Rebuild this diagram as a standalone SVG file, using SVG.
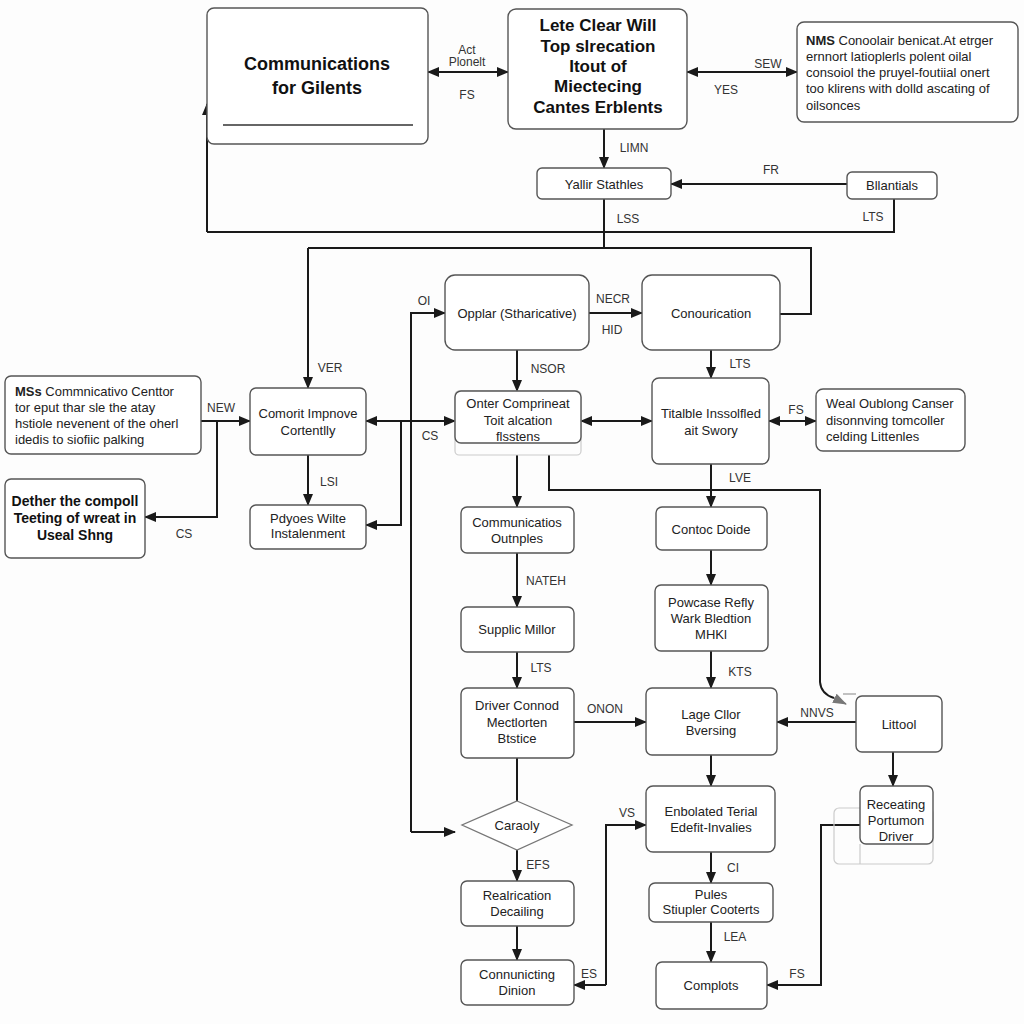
<svg xmlns="http://www.w3.org/2000/svg" width="1024" height="1024" viewBox="0 0 1024 1024">
<defs>
<marker id="ah" markerWidth="12" markerHeight="10" refX="11" refY="5" orient="auto-start-reverse" markerUnits="userSpaceOnUse">
<path d="M0,0 L12,5 L0,10 Z" fill="#1a1a1a"/>
</marker>
<marker id="ahg" markerWidth="14" markerHeight="10" refX="13" refY="5" orient="auto" markerUnits="userSpaceOnUse">
<path d="M0,0 L14,5 L0,10 Z" fill="#777"/>
</marker>
<style>
.box{fill:#fff;stroke:#555;stroke-width:1.4}
.ghost{fill:none;stroke:#ccc;stroke-width:1.2}
.t{font-family:"Liberation Sans",Arial,sans-serif;font-size:13px;fill:#222;text-anchor:middle}
.tl{font-family:"Liberation Sans",Arial,sans-serif;font-size:13px;fill:#222}
.tb{font-family:"Liberation Sans",Arial,sans-serif;font-weight:bold;fill:#111;text-anchor:middle}
.lb{font-family:"Liberation Sans",Arial,sans-serif;font-size:12px;fill:#333;text-anchor:middle}
.c{fill:none;stroke:#1a1a1a;stroke-width:2}
.a{marker-end:url(#ah)}
.aa{marker-start:url(#ah);marker-end:url(#ah)}
</style>
</defs>
<rect width="1024" height="1024" fill="#fdfdfd"/>

<g id="connectors">
<path class="c aa" d="M428,72 H508"/>
<path class="c aa" d="M687,72 H797"/>
<path class="c a" d="M604,129 V168"/>
<path class="c a" d="M847,184 H671"/>
<path class="c" d="M894,199 V232 H207"/>
<path class="c a" d="M207,232 V104"/>
<path class="c" d="M604,199 V248"/>
<path class="c a" d="M308,248 V388"/>
<path class="c" d="M308,248 H811 V314 H780"/>
<path class="c a" d="M201,421 H250"/>
<path class="c a" d="M217,421 V517 H145"/>
<path class="c a" d="M308,455 V505"/>
<path class="c aa" d="M366,421 H455"/>
<path class="c a" d="M401,421 V525 H366"/>
<path class="c a" d="M411,832 V313 H445"/>
<path class="c a" d="M411,832 H455"/>
<path class="c a" d="M589,313 H642"/>
<path class="c a" d="M517,350 V391"/>
<path class="c a" d="M711,350 V378"/>
<path class="c aa" d="M581,421 H652"/>
<path class="c aa" d="M769,421 H816"/>
<path class="c a" d="M517,455 V507"/>
<path class="c" d="M549,455 V490 H820 V682 Q821,694 834,698"/>
<path d="M834,698 L846,704" fill="none" stroke="#777" stroke-width="1.5" marker-end="url(#ahg)"/>
<path d="M843,694 H856" fill="none" stroke="#999" stroke-width="1.2"/>
<path class="c a" d="M711,464 V507"/>
<path class="c a" d="M517,553 V607"/>
<path class="c a" d="M711,550 V585"/>
<path class="c a" d="M517,652 V688"/>
<path class="c a" d="M711,651 V688"/>
<path class="c a" d="M574,722 H646"/>
<path class="c a" d="M856,722 H777"/>
<path class="c" d="M517,758 V801"/>
<path class="c a" d="M711,755 V786"/>
<path class="c a" d="M517,850 V881"/>
<path class="c a" d="M517,926 V960"/>
<path class="c a" d="M606,985 H574"/>
<path class="c a" d="M606,985 V825 H646"/>
<path class="c a" d="M711,852 V883"/>
<path class="c a" d="M711,922 V962"/>
<path class="c a" d="M893,752 V786"/>
<path class="c a" d="M860,825 H821 V985 H767"/>

<text class="lb" x="467" y="54">Act</text>
<text class="lb" x="467" y="66">Plonelt</text>
<text class="lb" x="467" y="99">FS</text>
<text class="lb" x="768" y="68">SEW</text>
<text class="lb" x="726" y="94">YES</text>
<text class="lb" x="634" y="152">LIMN</text>
<text class="lb" x="771" y="174">FR</text>
<text class="lb" x="628" y="223">LSS</text>
<text class="lb" x="873" y="221">LTS</text>
<text class="lb" x="330" y="372">VER</text>
<text class="lb" x="221" y="412">NEW</text>
<text class="lb" x="184" y="538">CS</text>
<text class="lb" x="430" y="440">CS</text>
<text class="lb" x="424" y="305">OI</text>
<text class="lb" x="329" y="486">LSI</text>
<text class="lb" x="613" y="303">NECR</text>
<text class="lb" x="612" y="334">HID</text>
<text class="lb" x="548" y="373">NSOR</text>
<text class="lb" x="740" y="368">LTS</text>
<text class="lb" x="796" y="414">FS</text>
<text class="lb" x="740" y="482">LVE</text>
<text class="lb" x="546" y="585">NATEH</text>
<text class="lb" x="541" y="672">LTS</text>
<text class="lb" x="740" y="676">KTS</text>
<text class="lb" x="605" y="713">ONON</text>
<text class="lb" x="817" y="717">NNVS</text>
<text class="lb" x="538" y="869">EFS</text>
<text class="lb" x="627" y="817">VS</text>
<text class="lb" x="589" y="978">ES</text>
<text class="lb" x="733" y="872">CI</text>
<text class="lb" x="735" y="941">LEA</text>
<text class="lb" x="797" y="978">FS</text>
</g>

<g id="n-communications">
<rect class="box" x="207" y="8" width="221" height="136" rx="7"/>
<text class="tb" x="317" y="70" font-size="18">Communications</text>
<text class="tb" x="317" y="94" font-size="18">for Gilents</text>
<line x1="223" y1="125" x2="413" y2="125" stroke="#333" stroke-width="1.5"/>
</g>
<g id="n-lete">
<rect class="box" x="508" y="9" width="179" height="120" rx="8"/>
<text class="tb" x="598" y="31" font-size="17">Lete Clear Will</text>
<text class="tb" x="598" y="52" font-size="17">Top slrecation</text>
<text class="tb" x="598" y="72" font-size="17">Itout of</text>
<text class="tb" x="598" y="92" font-size="17">Miectecing</text>
<text class="tb" x="598" y="113" font-size="17">Cantes Erblents</text>
</g>
<g id="n-nms">
<rect class="box" x="797" y="22" width="221" height="100" rx="7"/>
<text class="tl" x="806" y="45"><tspan font-weight="bold">NMS</tspan> Conoolair benicat.At etrger</text>
<text class="tl" x="806" y="61">ernnort latioplerls polent oilal</text>
<text class="tl" x="806" y="77">consoiol the pruyel-foutiial onert</text>
<text class="tl" x="806" y="93">too klirens with dolld ascating of</text>
<text class="tl" x="806" y="110">oilsonces</text>
</g>
<g id="n-yallir">
<rect class="box" x="537" y="168" width="134" height="31" rx="5"/>
<text class="t" x="604" y="189">Yallir Stathles</text>
</g>
<g id="n-bllantials">
<rect class="box" x="847" y="172" width="90" height="27" rx="5"/>
<text class="t" x="892" y="190">Bllantials</text>
</g>
<g id="n-mss">
<rect class="box" x="5" y="376" width="196" height="78" rx="6"/>
<text class="tl" x="15" y="396"><tspan font-weight="bold">MSs</tspan> Commnicativo Centtor</text>
<text class="tl" x="15" y="412">tor eput thar sle the atay</text>
<text class="tl" x="15" y="428">hstiole nevenent of the oherl</text>
<text class="tl" x="15" y="444">idedis to siofiic palking</text>
</g>
<g id="n-dether">
<rect class="box" x="5" y="479" width="140" height="79" rx="6"/>
<text class="tb" x="75" y="506" font-size="14">Dether the compoll</text>
<text class="tb" x="75" y="523" font-size="14">Teeting of wreat in</text>
<text class="tb" x="75" y="540" font-size="14">Useal Shng</text>
</g>
<g id="n-comorit">
<rect class="box" x="250" y="388" width="116" height="67" rx="6"/>
<text class="t" x="308" y="418">Comorit Impnove</text>
<text class="t" x="308" y="435">Cortentlly</text>
</g>
<g id="n-pdyoes">
<rect class="box" x="250" y="505" width="116" height="44" rx="6"/>
<text class="t" x="308" y="523">Pdyoes Wilte</text>
<text class="t" x="308" y="538">Instalenment</text>
</g>
<g id="n-opplar">
<rect class="box" x="445" y="275" width="144" height="75" rx="10"/>
<text class="t" x="517" y="318">Opplar (Stharicative)</text>
</g>
<g id="n-conourication">
<rect class="box" x="642" y="275" width="138" height="75" rx="10"/>
<text class="t" x="711" y="318">Conourication</text>
</g>
<g id="n-onter">
<rect class="ghost" x="455" y="391" width="126" height="64" rx="4"/>
<rect class="box" x="455" y="391" width="126" height="52" rx="6"/>
<text class="t" x="518" y="408">Onter Comprineat</text>
<text class="t" x="518" y="425">Toit alcation</text>
<text class="t" x="518" y="441" font-size="12">flsstens</text>
</g>
<g id="n-titalble">
<rect class="box" x="652" y="378" width="117" height="86" rx="7"/>
<text class="t" x="711" y="418">Titalble Inssolfled</text>
<text class="t" x="711" y="435">ait Swory</text>
</g>
<g id="n-weal">
<rect class="box" x="816" y="389" width="149" height="62" rx="7"/>
<text class="tl" x="826" y="408">Weal Oublong Canser</text>
<text class="tl" x="826" y="425">disonnving tomcoller</text>
<text class="tl" x="826" y="441">celding Littenles</text>
</g>
<g id="n-communicatios">
<rect class="box" x="461" y="507" width="113" height="46" rx="6"/>
<text class="t" x="517" y="527">Communicatios</text>
<text class="t" x="517" y="543">Outnples</text>
</g>
<g id="n-contoc">
<rect class="box" x="656" y="507" width="111" height="43" rx="6"/>
<text class="t" x="711" y="534">Contoc Doide</text>
</g>
<g id="n-powcase">
<rect class="box" x="655" y="585" width="113" height="66" rx="6"/>
<text class="t" x="711" y="607">Powcase Refly</text>
<text class="t" x="711" y="623">Wark Bledtion</text>
<text class="t" x="711" y="639">MHKl</text>
</g>
<g id="n-supplic">
<rect class="box" x="461" y="607" width="113" height="45" rx="6"/>
<text class="t" x="517" y="634">Supplic Millor</text>
</g>
<g id="n-driver">
<rect class="box" x="461" y="688" width="113" height="70" rx="6"/>
<text class="t" x="517" y="710">Driver Connod</text>
<text class="t" x="517" y="727">Mectlorten</text>
<text class="t" x="517" y="743">Btstice</text>
</g>
<g id="n-lage">
<rect class="box" x="646" y="688" width="131" height="67" rx="6"/>
<text class="t" x="711" y="719">Lage Cllor</text>
<text class="t" x="711" y="735">Bversing</text>
</g>
<g id="n-littool">
<rect class="box" x="856" y="696" width="86" height="56" rx="6"/>
<text class="t" x="899" y="729">Littool</text>
</g>
<g id="n-caraoly">
<polygon points="517,801 572,825 517,850 462,825" fill="#fff" stroke="#777" stroke-width="1.3"/>
<text class="t" x="517" y="830">Caraoly</text>
</g>
<g id="n-receating">
<rect class="ghost" x="834" y="808" width="99" height="56" rx="5"/>
<line x1="860" y1="844" x2="860" y2="864" stroke="#ccc" stroke-width="1.2"/>
<rect class="box" x="860" y="786" width="73" height="58" rx="6"/>
<text class="t" x="896" y="809">Receating</text>
<text class="t" x="896" y="825">Portumon</text>
<text class="t" x="896" y="841">Driver</text>
</g>
<g id="n-enbolated">
<rect class="box" x="646" y="786" width="129" height="66" rx="7"/>
<text class="t" x="711" y="816">Enbolated Terial</text>
<text class="t" x="711" y="832">Edefit-Invalies</text>
</g>
<g id="n-realrication">
<rect class="box" x="461" y="881" width="113" height="45" rx="6"/>
<text class="t" x="517" y="900">Realrication</text>
<text class="t" x="517" y="916">Decailing</text>
</g>
<g id="n-pules">
<rect class="box" x="649" y="883" width="124" height="39" rx="6"/>
<text class="t" x="711" y="899">Pules</text>
<text class="t" x="711" y="914">Stiupler Cooterts</text>
</g>
<g id="n-connunicting">
<rect class="box" x="461" y="960" width="113" height="45" rx="6"/>
<text class="t" x="517" y="979">Connunicting</text>
<text class="t" x="517" y="995">Dinion</text>
</g>
<g id="n-complots">
<rect class="box" x="656" y="962" width="111" height="47" rx="6"/>
<text class="t" x="711" y="990">Complots</text>
</g>
</svg>
